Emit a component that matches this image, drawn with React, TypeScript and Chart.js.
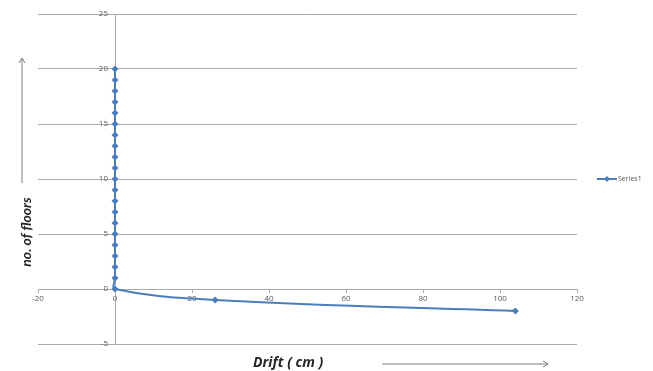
import { useEffect, useRef } from 'react';
import { Chart, registerables } from 'chart.js';

Chart.register(...registerables);

// Data
const floors: number[] = [20, 19, 18, 17, 16, 15, 14, 13, 12, 11, 10, 9, 8, 7, 6, 5, 4, 3, 2, 1, 0, -1, -2];
const drift: number[] = [0, 0, 0, 0, 0, 0, 0, 0, 0, 0, 0, 0, 0, 0, 0, 0, 0, 0, 0, 0, 0, 26, 104];
const seriesName = 'Series1';
const xTitle = 'Drift ( cm )';
const yTitle = 'no. of floors';
const xRange = { min: -20, max: 120, step: 20 };
const yRange = { min: -5, max: 25, step: 5 };

const BLUE = '#4a7ebb';
const GRID = '#ababab';
const TICK_COLOR = '#595959';
const TICK_FONT = '8px "Open Sans"';

const decorPlugin = {
  id: 'decor',
  afterDraw(chart: any) {
    const ctx = chart.ctx as CanvasRenderingContext2D;
    const area = chart.chartArea;
    ctx.save();

    // Y tick labels, to the left of the y axis line (which crosses x = 0)
    const ys = chart.scales.y;
    const xs = chart.scales.x;
    const axisX = xs.getPixelForValue(0);
    ctx.fillStyle = TICK_COLOR;
    ctx.font = TICK_FONT;
    ctx.textAlign = 'right';
    ctx.textBaseline = 'middle';
    for (const t of ys.ticks) {
      ctx.fillText(String(t.value), axisX - 7, ys.getPixelForValue(t.value));
    }

    // Legend (right side)
    const ly = (area.top + area.bottom) / 2;
    const lx = area.right + 20;
    ctx.strokeStyle = BLUE;
    ctx.lineWidth = 2;
    ctx.beginPath();
    ctx.moveTo(lx, ly);
    ctx.lineTo(lx + 20, ly);
    ctx.stroke();
    ctx.fillStyle = BLUE;
    ctx.beginPath();
    ctx.moveTo(lx + 10, ly - 3);
    ctx.lineTo(lx + 13, ly);
    ctx.lineTo(lx + 10, ly + 3);
    ctx.lineTo(lx + 7, ly);
    ctx.closePath();
    ctx.fill();
    ctx.fillStyle = TICK_COLOR;
    ctx.font = '7px "Open Sans"';
    ctx.textAlign = 'left';
    ctx.textBaseline = 'middle';
    ctx.fillText(chart.data.datasets[0].label, lx + 21, ly);

    // X axis title and arrow
    ctx.fillStyle = '#262626';
    ctx.font = 'italic bold 14px "Open Sans"';
    ctx.textAlign = 'left';
    ctx.textBaseline = 'middle';
    ctx.fillText(xTitle, 253, 363);
    ctx.strokeStyle = '#7f7f7f';
    ctx.lineWidth = 1;
    ctx.beginPath();
    ctx.moveTo(382, 364);
    ctx.lineTo(548, 364);
    ctx.moveTo(543, 361);
    ctx.lineTo(548, 364);
    ctx.lineTo(543, 367);
    ctx.stroke();

    // Y axis title and arrow
    ctx.save();
    ctx.translate(26, 232);
    ctx.rotate(-Math.PI / 2);
    ctx.textAlign = 'center';
    ctx.font = 'italic bold 14px Lato';
    ctx.fillStyle = '#262626';
    ctx.fillText(yTitle, 0, 0);
    ctx.restore();
    ctx.beginPath();
    ctx.moveTo(22, 183);
    ctx.lineTo(22, 58);
    ctx.moveTo(19, 63);
    ctx.lineTo(22, 58);
    ctx.lineTo(25, 63);
    ctx.stroke();

    ctx.restore();
  },
};

export default function App() {
  const ref = useRef<HTMLCanvasElement | null>(null);

  useEffect(() => {
    if (!ref.current) return;
    const points = floors.map((f, i) => ({ x: drift[i], y: f }));
    const chart = new Chart(ref.current, {
      type: 'scatter',
      data: {
        datasets: [
          {
            label: seriesName,
            data: points,
            showLine: true,
            tension: 0.4,
            borderColor: BLUE,
            backgroundColor: BLUE,
            borderWidth: 2,
            pointStyle: 'rectRot',
            pointRadius: 3.5,
            pointBorderWidth: 0,
            pointBackgroundColor: BLUE,
          },
        ],
      },
      options: {
        animation: false,
        responsive: true,
        maintainAspectRatio: false,
        layout: { padding: { left: 38, right: 76, top: 14, bottom: 27 } },
        plugins: {
          legend: { display: false },
          tooltip: { enabled: false },
        },
        scales: {
          x: {
            type: 'linear',
            position: { y: 0 } as any,
            min: xRange.min,
            max: xRange.max,
            ticks: {
              stepSize: xRange.step,
              color: TICK_COLOR,
              font: { family: 'Open Sans', size: 8 },
              padding: 2,
              maxRotation: 0,
            },
            grid: { drawOnChartArea: false, tickLength: 3, color: GRID },
            border: { display: true, color: GRID, width: 1 },
          },
          y: {
            type: 'linear',
            position: { x: 0 } as any,
            min: yRange.min,
            max: yRange.max,
            ticks: {
              stepSize: yRange.step,
              display: false,
            },
            grid: { color: GRID, drawTicks: false },
            border: { display: true, color: GRID, width: 1 },
          },
        },
      },
      plugins: [decorPlugin],
    });
    return () => chart.destroy();
  }, []);

  return (
    <div style={{ position: 'fixed', left: 0, top: 0, width: 653, height: 371, background: '#fff' }}>
      <canvas ref={ref} />
    </div>
  );
}
